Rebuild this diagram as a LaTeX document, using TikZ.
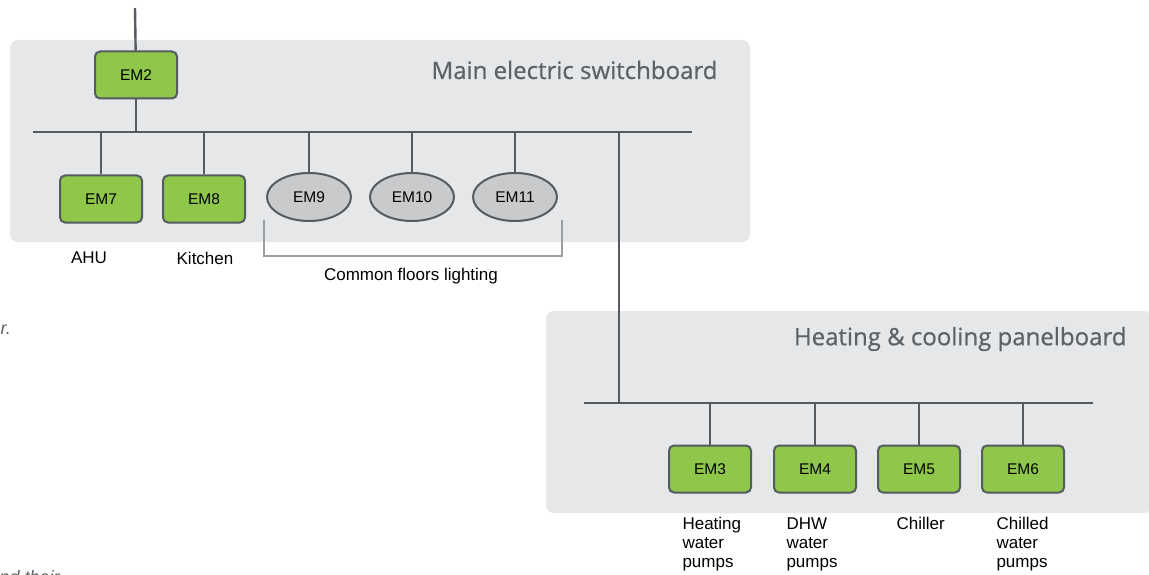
\documentclass[tikz,border=0pt]{standalone}
\usepackage{fontspec}
\setmainfont{Liberation Sans}
\newfontface\boardfont{Open Sans}[FakeBold=0.6]
\usetikzlibrary{positioning, calc, shapes.geometric}
\definecolor{panel}{HTML}{E6E7E8}
\definecolor{meter}{HTML}{8FC74A}
\definecolor{wire}{HTML}{555B61}
\definecolor{lamp}{HTML}{C9CACC}
\definecolor{boardtext}{HTML}{5C6268}
\definecolor{bracket}{HTML}{9A9FA4}

\tikzset{
  meterbox/.style={draw=wire, line width=2pt, fill=meter, rounded corners=5pt,
    minimum width=82pt, minimum height=47pt, inner sep=0pt,
    font=\fontsize{15.5}{17}\selectfont},
  lampbox/.style={ellipse, draw=wire, line width=2pt, fill=lamp,
    minimum width=84pt, minimum height=48pt, inner sep=0pt,
    font=\fontsize{15.5}{17}\selectfont},
  wireline/.style={draw=wire, line width=2.4pt},
  caption/.style={font=\fontsize{17}{19}\selectfont, align=left},
  boardtitle/.style={font=\boardfont\fontsize{24}{26}\selectfont, text=boardtext, anchor=east},
}

\begin{document}
\begin{tikzpicture}[x=1pt, y=-1pt]
    \useasboundingbox (0,0) rectangle (1149,575);

    % switchboard panels
    \fill[panel, rounded corners=8pt] (10,40) rectangle (750,242);
    \fill[panel, rounded corners=8pt] (546,311) rectangle (1152,513);
    \node[boardtitle] (maintitle) at (721,70) {Main electric switchboard};
    \node[boardtitle] (heattitle) at (1130,339) {Heating \& cooling panelboard};

    % bus bars
    \coordinate (feed) at (135,8);
    \coordinate (mainL) at (33,132);
    \coordinate (mainR) at (692,132);
    \coordinate (tap) at (619,132);
    \coordinate (heatL) at (584,403);
    \coordinate (heatR) at (1093,403);

    % meters
    \node[meterbox] (em2) at (136,75) {EM2};
    \node[meterbox] (em7) at (101,199) {EM7};
    \node[meterbox] (em8) at (204,199) {EM8};
    \node[lampbox] (em9) at (309,197) {EM9};
    \node[lampbox] (em10) at (412,197) {EM10};
    \node[lampbox] (em11) at (515,197) {EM11};
    \node[meterbox] (em3) at (710,469) {EM3};
    \node[meterbox] (em4) at (815,469) {EM4};
    \node[meterbox] (em5) at (919,469) {EM5};
    \node[meterbox] (em6) at (1023,469) {EM6};

    % wiring
    \draw[wireline] (feed) -- (em2);
    \draw[wireline] (mainL) -- (mainR);
    \draw[wireline] (em2) -- (em2 |- mainL);
    \foreach \m in {em7,em8,em9,em10,em11}
      \draw[wireline] (\m) -- (\m |- mainL);
    \draw[wireline] (tap) -- (tap |- heatL);
    \draw[wireline] (heatL) -- (heatR);
    \foreach \m in {em3,em4,em5,em6}
      \draw[wireline] (\m) -- (\m |- heatL);

    % lighting bracket
    \coordinate (brL) at (264,220);
    \coordinate (brR) at (562,220);
    \draw[bracket, line width=1.5pt] (brL) -- ++(0,36) -| (brR);

    % captions
    \node[caption] (ahu) at (89,258) {AHU};
    \node[caption] (kitchen) at (205,258) {Kitchen};
    \node[caption] (lighting) at (411,276) {Common floors lighting};
    \node[caption, anchor=north west] (heatpumps) at (679,514) {Heating\\water\\pumps};
    \node[caption, anchor=north west] (dhw) at (783,514) {DHW\\water\\pumps};
    \node[caption, anchor=north west] (chiller) at (893,514) {Chiller};
    \node[caption, anchor=north west] (chilled) at (993,514) {Chilled\\water\\pumps};

    % cut-off text of the page
    \node[font=\itshape\fontsize{18}{20}\selectfont, text=boardtext, anchor=base west] (frag1) at (-3,334) {r.};
    \node[font=\itshape\fontsize{18}{20}\selectfont, text=boardtext, anchor=base west] (frag2) at (-4,583) {nd their};
\end{tikzpicture}
\end{document}
